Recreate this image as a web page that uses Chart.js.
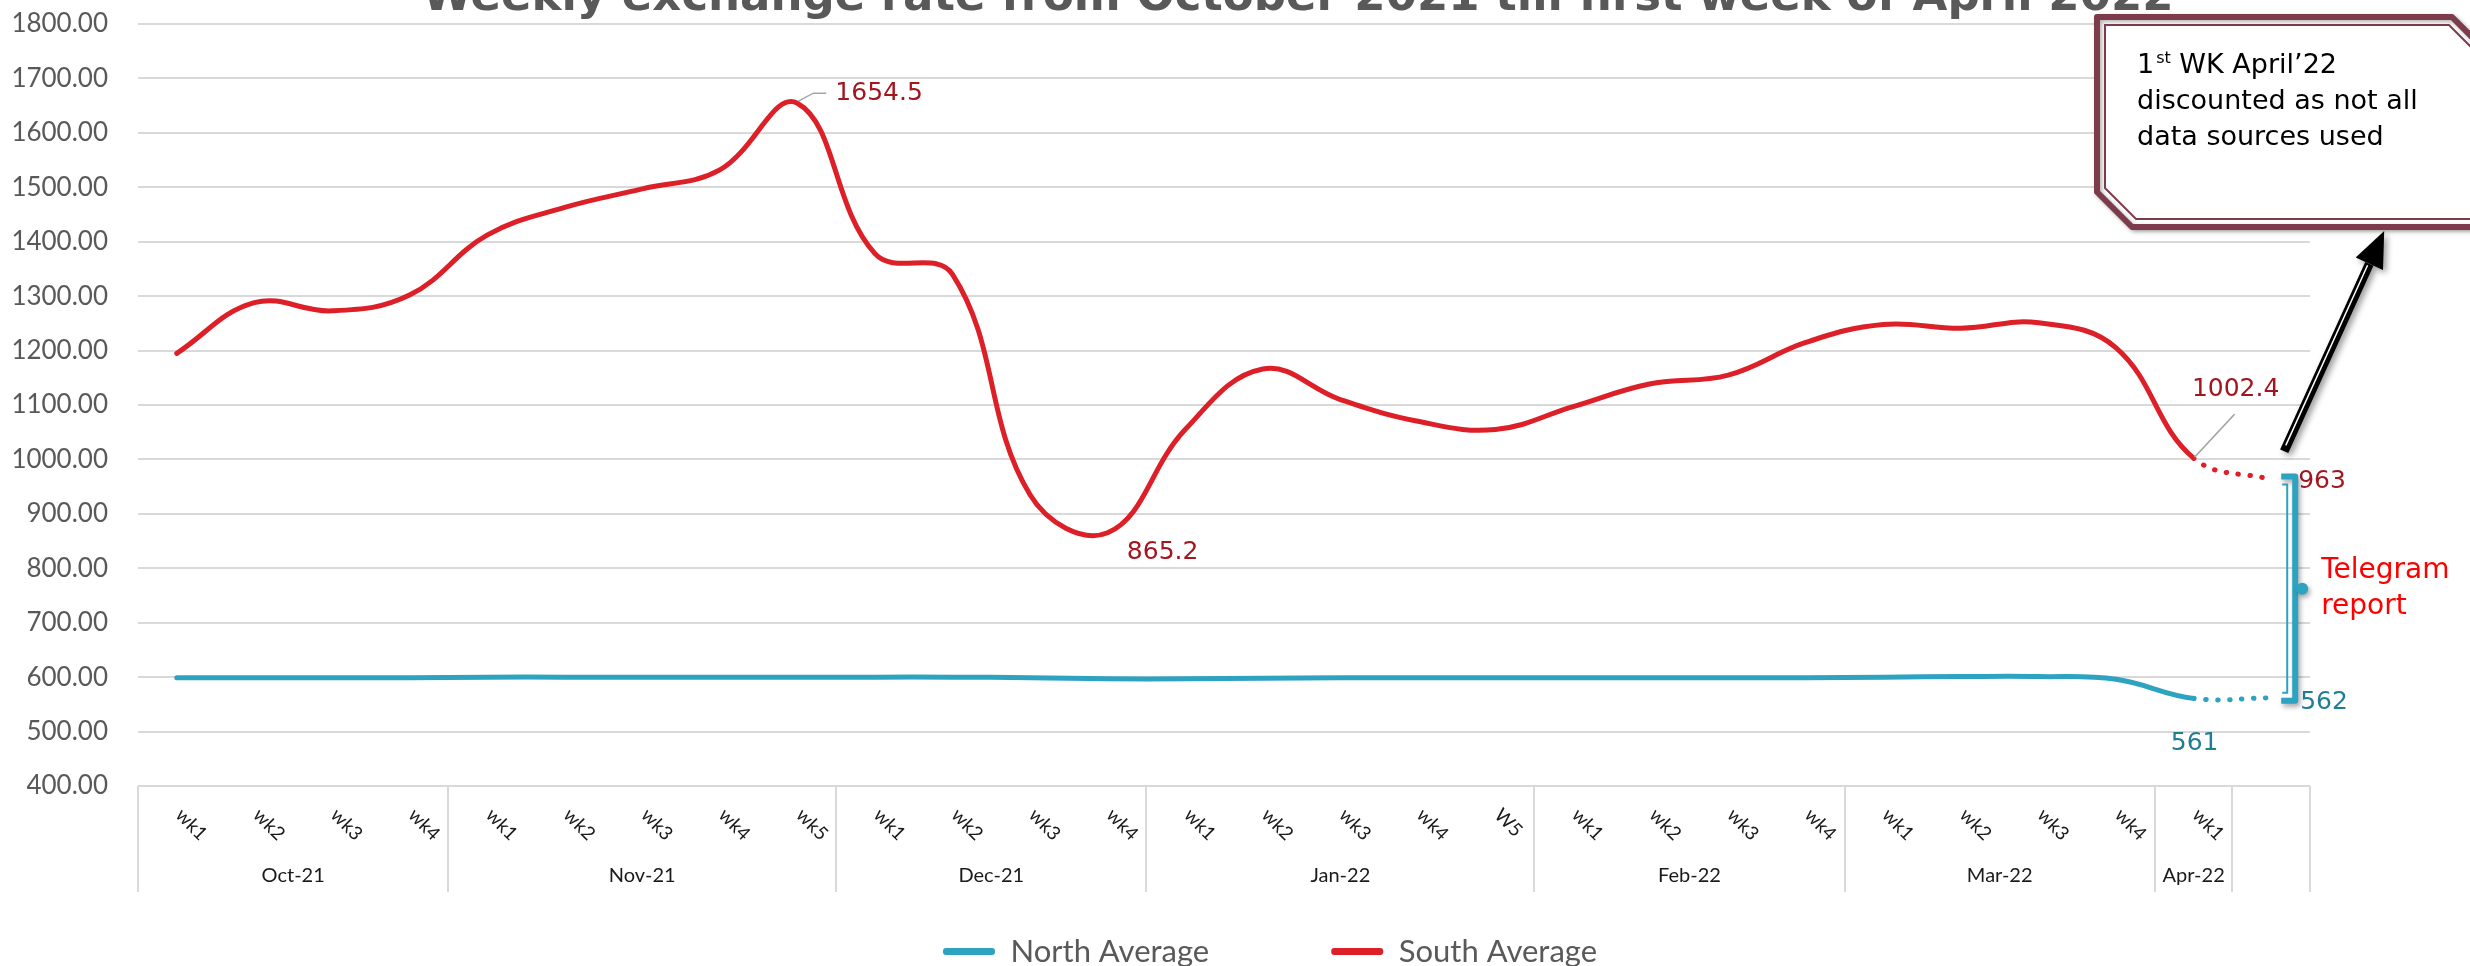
<!DOCTYPE html>
<html>
<head>
<meta charset="utf-8">
<title>Weekly exchange rate</title>
<script src="https://cdn.jsdelivr.net/npm/chart.js@4.4.1/dist/chart.umd.min.js"></script>
<style>
  html, body { margin: 0; padding: 0; background: #ffffff; }
  #wrap { position: relative; width: 2470px; height: 966px; }
</style>
</head>
<body>
<div id="wrap"><canvas id="rateChart"></canvas></div>
<script>
// --- chart data ---
const weekLabels = [
    'wk1', 'wk2', 'wk3', 'wk4',
    'wk1', 'wk2', 'wk3', 'wk4', 'wk5',
    'wk1', 'wk2', 'wk3', 'wk4',
    'wk1', 'wk2', 'wk3', 'wk4', 'W5',
    'wk1', 'wk2', 'wk3', 'wk4',
    'wk1', 'wk2', 'wk3', 'wk4',
    'wk1',
    ''
];
const monthLabels = ['Oct-21', 'Nov-21', 'Dec-21', 'Jan-22', 'Feb-22', 'Mar-22', 'Apr-22', ''];
const monthSpans = [4, 5, 4, 5, 4, 4, 1, 1];

const northAverage = [
    599, 599, 599, 599,
    600, 600, 600, 600, 600,
    600, 600, 599, 597,
    597, 598, 599, 599, 599,
    599, 599, 599, 599,
    600, 601, 601, 596,
    561,
    562
];
const southAverage = [
    1195, 1288, 1273, 1302,
    1412, 1463, 1497, 1532, 1654.5,
    1378, 1340, 935, 865.2,
    1055, 1166, 1110, 1070, 1055,
    1097, 1139, 1155, 1215,
    1248, 1241, 1251, 1205,
    1002.4,
    963
];

// labelled points
const southLabelled = [8, 12, 26, 27];
const northLabelled = [26, 27];

const yMin = 400;
const yMax = 1800;
const yStep = 100;

const chartTitle = 'Weekly exchange rate from October 2021 till first week of April 2022';
const calloutLines = ['WK April\u201922', 'discounted as not all', 'data sources used'];
const bracketText = ['Telegram', 'report'];

// --- colours ---
const northColor = '#2EA2C1';
const southColor = '#DD1F28';
const northLabelColor = '#1F7E91';
const southLabelColor = '#A3161F';
const gridColor = '#D9D9D9';
const calloutColor = '#7D3C4B';

const lastIdx = weekLabels.length - 1;
const labelFont = "25px 'DejaVu Sans'";

Chart.defaults.font.family = "Lato, 'Open Sans', sans-serif";

// dotted last segment (the unconfirmed week)
const dottedLast = {
    borderDash: ctx => ctx.p1DataIndex === lastIdx ? [0.5, 11.5] : undefined
};

// Title, half cut off by the top edge like in the source image
const titlePlugin = {
    id: 'cutTitle',
    afterDraw(chart) {
        const ctx = chart.ctx;
        ctx.save();
        ctx.font = "bold 45px 'DejaVu Sans'";
        ctx.fillStyle = '#595959';
        ctx.textAlign = 'center';
        ctx.textBaseline = 'alphabetic';
        ctx.fillText(chartTitle, chart.chartArea.left + 1160, 10);
        ctx.restore();
    }
};

// legend sits a bit right of the plot centre in the source
const legendNudge = {
    id: 'legendNudge',
    afterLayout(chart) {
        const lg = chart.legend;
        if (!lg) return;
        lg.left += 46;
        lg.right += 46;
    }
};

// Two level category axis: week ticks + month groups with separators
const groupAxisPlugin = {
    id: 'groupAxis',
    afterDraw(chart) {
        const { ctx, chartArea, scales: { x } } = chart;
        const base = chartArea.bottom;

        ctx.save();
        // separators
        ctx.strokeStyle = gridColor;
        ctx.lineWidth = 2;
        let edge = 0;
        const edges = [0];
        monthSpans.forEach(n => { edge += n; edges.push(edge); });
        edges.forEach(e => {
            const px = Math.round(x.getPixelForValue(e - 0.5));
            ctx.beginPath();
            ctx.moveTo(px, base);
            ctx.lineTo(px, base + 106);
            ctx.stroke();
        });

        // week labels, rotated clockwise
        ctx.fillStyle = '#1a1a1a';
        ctx.font = "19px Lato";
        ctx.textAlign = 'left';
        ctx.textBaseline = 'middle';
        weekLabels.forEach((lbl, i) => {
            if (!lbl) return;
            const px = x.getPixelForValue(i);
            ctx.save();
            ctx.translate(px + 2, base + 26);
            ctx.rotate(Math.PI / 4);
            ctx.fillText(lbl, 0, 0);
            ctx.restore();
        });

        // month labels
        ctx.font = "20px Lato";
        ctx.textAlign = 'center';
        monthLabels.forEach((lbl, m) => {
            if (!lbl) return;
            const mid = (edges[m] + edges[m + 1] - 1) / 2;
            ctx.fillText(lbl, x.getPixelForValue(mid), base + 90);
        });
        ctx.restore();
    }
};

// Data labels, bracket, callout box and arrow
const annotationPlugin = {
    id: 'rateAnnotations',
    afterDraw(chart) {
        const { ctx, chartArea, scales: { y } } = chart;
        const north = chart.getDatasetMeta(0).data;
        const south = chart.getDatasetMeta(1).data;

        ctx.save();
        ctx.font = labelFont;
        ctx.textBaseline = 'middle';

        // leader lines
        ctx.strokeStyle = '#A6A6A6';
        ctx.lineWidth = 1.5;
        const peak = south[southLabelled[0]];
        ctx.beginPath();
        ctx.moveTo(peak.x + 1, peak.y - 2);
        ctx.lineTo(peak.x + 16, peak.y - 10);
        ctx.lineTo(peak.x + 29, peak.y - 10);
        ctx.stroke();
        const apr = south[southLabelled[2]];
        ctx.beginPath();
        ctx.moveTo(apr.x + 1, apr.y - 1);
        ctx.lineTo(apr.x + 41, apr.y - 44);
        ctx.stroke();

        // south labels
        ctx.fillStyle = southLabelColor;
        const sText = i => String(southAverage[i]);
        ctx.textAlign = 'left';
        ctx.fillText(sText(8), peak.x + 38, peak.y - 10);
        const low = south[12];
        ctx.textAlign = 'center';
        ctx.fillText(sText(12), low.x + 55, low.y + 20);
        ctx.fillText(sText(26), apr.x + 42, apr.y - 69);
        const sLast = south[lastIdx];
        ctx.textAlign = 'left';
        ctx.fillText(sText(lastIdx), sLast.x + 27, sLast.y + 2);

        // north labels
        ctx.fillStyle = northLabelColor;
        const nApr = north[26];
        ctx.textAlign = 'center';
        ctx.fillText(String(northAverage[26]), nApr.x + 1, nApr.y + 45);
        const nLast = north[lastIdx];
        ctx.textAlign = 'left';
        ctx.fillText(String(northAverage[lastIdx]), nLast.x + 29, nLast.y + 5);

        // "Telegram report" bracket between the two last values
        const lx = sLast.x;
        const yTop = sLast.y - 3;
        const yBot = nLast.y + 3;
        const bx = lx + 24;
        const mid = (yTop + yBot) / 2;
        ctx.save();
        ctx.shadowColor = 'rgba(0,0,0,0.35)';
        ctx.shadowBlur = 5;
        ctx.shadowOffsetX = 2;
        ctx.shadowOffsetY = 3;
        ctx.strokeStyle = northColor;
        ctx.fillStyle = northColor;
        ctx.lineWidth = 6;
        ctx.lineJoin = 'round';
        ctx.beginPath();
        ctx.moveTo(lx + 10, yTop);
        ctx.lineTo(bx, yTop);
        ctx.lineTo(bx, yBot);
        ctx.lineTo(lx + 10, yBot);
        ctx.stroke();
        ctx.beginPath();
        ctx.arc(bx + 7, mid, 6, 0, Math.PI * 2);
        ctx.fill();
        ctx.restore();
        ctx.strokeStyle = northColor;
        ctx.lineWidth = 2;
        ctx.beginPath();
        ctx.moveTo(lx + 11, yTop + 8);
        ctx.lineTo(lx + 16, yTop + 8);
        ctx.lineTo(lx + 16, yBot - 8);
        ctx.lineTo(lx + 11, yBot - 8);
        ctx.stroke();

        ctx.fillStyle = '#FF0000';
        ctx.font = "28px 'DejaVu Sans'";
        ctx.textAlign = 'left';
        ctx.fillText(bracketText[0], bx + 26, mid - 18);
        ctx.fillText(bracketText[1], bx + 26, mid + 18);

        // callout box (runs past the right edge)
        const bl = chartArea.right - 213;
        const bt = chartArea.top - 7;
        const bb = chartArea.top + 203;
        const ch = 35;
        const far = chart.width + 80;
        ctx.save();
        ctx.shadowColor = 'rgba(0,0,0,0.3)';
        ctx.shadowBlur = 4;
        ctx.shadowOffsetX = 2;
        ctx.shadowOffsetY = 2;
        ctx.beginPath();
        ctx.moveTo(bl, bt);
        ctx.lineTo(bl + 355, bt);
        ctx.lineTo(bl + 355 + 80, bt + 80);
        ctx.lineTo(far, bt + 80);
        ctx.lineTo(far, bb);
        ctx.lineTo(bl + ch, bb);
        ctx.lineTo(bl, bb - ch);
        ctx.closePath();
        ctx.fillStyle = '#ffffff';
        ctx.fill();
        ctx.strokeStyle = calloutColor;
        ctx.lineWidth = 6;
        ctx.lineJoin = 'round';
        ctx.stroke();
        ctx.restore();
        // inner thin border
        ctx.strokeStyle = calloutColor;
        ctx.lineWidth = 2;
        ctx.beginPath();
        ctx.moveTo(far, bb - 8);
        ctx.lineTo(bl + ch + 4, bb - 8);
        ctx.lineTo(bl + 8, bb - ch - 4);
        ctx.lineTo(bl + 8, bt + 8);
        ctx.lineTo(bl + 352, bt + 8);
        ctx.lineTo(bl + 352 + 80, bt + 88);
        ctx.stroke();

        ctx.fillStyle = '#000000';
        ctx.textBaseline = 'alphabetic';
        const tx = bl + 40;
        ctx.font = "27px 'DejaVu Sans'";
        ctx.fillText('1', tx, bt + 56);
        const oneW = ctx.measureText('1').width;
        ctx.font = "16px 'DejaVu Sans'";
        ctx.fillText('st', tx + oneW + 2, bt + 46);
        const stW = ctx.measureText('st').width;
        ctx.font = "27px 'DejaVu Sans'";
        ctx.fillText(' ' + calloutLines[0], tx + oneW + 2 + stW, bt + 56);
        ctx.fillText(calloutLines[1], tx, bt + 92);
        ctx.fillText(calloutLines[2], tx, bt + 128);

        // arrow from the last week up to the callout
        const ax0 = lx + 13, ay0 = y.getPixelForValue(1015);
        const ax1 = lx + 113, ay1 = bb + 4;
        const len = Math.hypot(ax1 - ax0, ay1 - ay0);
        const ux = (ax1 - ax0) / len, uy = (ay1 - ay0) / len;
        const headL = 36, headW = 15;
        const hx = ax1 - ux * headL, hy = ay1 - uy * headL;
        ctx.save();
        ctx.shadowColor = 'rgba(0,0,0,0.4)';
        ctx.shadowBlur = 6;
        ctx.shadowOffsetX = 3;
        ctx.shadowOffsetY = 3;
        ctx.strokeStyle = '#000000';
        ctx.lineWidth = 9;
        ctx.beginPath();
        ctx.moveTo(ax0, ay0);
        ctx.lineTo(hx, hy);
        ctx.stroke();
        ctx.fillStyle = '#000000';
        ctx.beginPath();
        ctx.moveTo(ax1, ay1);
        ctx.lineTo(hx - uy * headW, hy + ux * headW);
        ctx.lineTo(hx + uy * headW, hy - ux * headW);
        ctx.closePath();
        ctx.fill();
        ctx.restore();
        ctx.strokeStyle = '#ffffff';
        ctx.lineWidth = 1.5;
        ctx.beginPath();
        ctx.moveTo(ax0 + ux * 6 + uy * 1, ay0 + uy * 6 - ux * 1);
        ctx.lineTo(hx - ux * 2 + uy * 1, hy - uy * 2 - ux * 1);
        ctx.stroke();

        ctx.restore();
    }
};

const ctxEl = document.getElementById('rateChart');
new Chart(ctxEl, {
    type: 'line',
    data: {
        labels: weekLabels,
        datasets: [
            {
                label: 'North Average',
                data: northAverage,
                borderColor: northColor,
                backgroundColor: northColor,
                borderWidth: 5,
                borderCapStyle: 'round',
                pointRadius: 0,
                tension: 0.4,
                segment: dottedLast
            },
            {
                label: 'South Average',
                data: southAverage,
                borderColor: southColor,
                backgroundColor: southColor,
                borderWidth: 5,
                borderCapStyle: 'round',
                pointRadius: 0,
                tension: 0.4,
                segment: dottedLast
            }
        ]
    },
    options: {
        responsive: true,
        maintainAspectRatio: false,
        animation: false,
        devicePixelRatio: 1,
        layout: {
            padding: { top: 24, right: 160, bottom: -11, left: 0 }
        },
        scales: {
            x: {
                type: 'category',
                offset: true,
                grid: { display: false },
                border: { display: false },
                ticks: { display: false },
                afterFit: scale => { scale.height = 28; }
            },
            y: {
                min: yMin,
                max: yMax,
                border: { display: false },
                grid: {
                    color: gridColor,
                    lineWidth: 2,
                    drawTicks: true,
                    tickLength: 22,
                    tickColor: 'rgba(0,0,0,0)'
                },
                ticks: {
                    stepSize: yStep,
                    padding: 8,
                    color: '#595959',
                    font: { size: 26 },
                    callback: v => Number(v).toFixed(2)
                },
                afterFit: scale => { scale.width = 138; }
            }
        },
        plugins: {
            legend: {
                position: 'bottom',
                fullSize: false,
                labels: {
                    boxWidth: 52,
                    boxHeight: 7,
                    padding: 122,
                    color: '#595959',
                    font: { size: 31 },
                    generateLabels(chart) {
                        const items = Chart.defaults.plugins.legend.labels.generateLabels(chart);
                        items.forEach(it => {
                            it.lineWidth = 0;
                            it.fillStyle = it.strokeStyle;
                            it.borderRadius = 3;
                        });
                        return items;
                    }
                }
            },
            title: { display: false },
            tooltip: { enabled: false }
        }
    },
    plugins: [titlePlugin, legendNudge, groupAxisPlugin, annotationPlugin]
});
</script>
</body>
</html>
